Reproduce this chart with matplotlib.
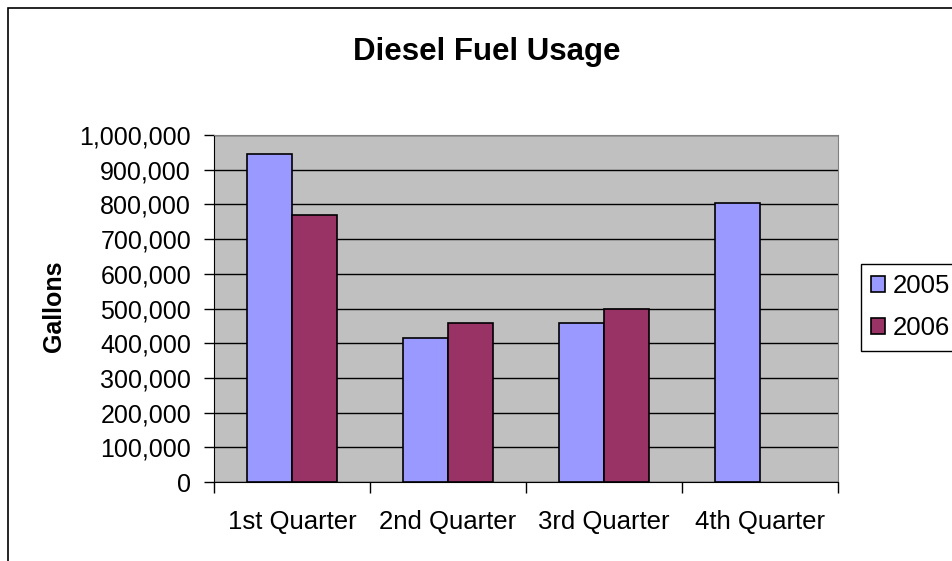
import matplotlib.pyplot as plt
from matplotlib.patches import Rectangle
from matplotlib.ticker import FuncFormatter, MultipleLocator
import numpy as np

plt.rcParams['font.family'] = ['Liberation Sans', 'DejaVu Sans']

quarters = ['1st Quarter', '2nd Quarter', '3rd Quarter', '4th Quarter']
usage_2005 = [945000, 415000, 458000, 805000]
usage_2006 = [770000, 457000, 500000, np.nan]  # no 4th quarter figure yet

W, H = 952, 561
fig = plt.figure(figsize=(W / 100, H / 100), dpi=100)

# outer chart border (runs off the right and bottom edges)
fig.patches.append(Rectangle((8 / W, -0.2), 1.2, 1.2 - 8 / H, transform=fig.transFigure,
                             fill=False, edgecolor='black', linewidth=1.2))

left, right, top, bottom = 214, 838, 135, 482
ax = fig.add_axes([left / W, 1 - bottom / H, (right - left) / W, (bottom - top) / H])
ax.set_facecolor('#C0C0C0')

x = np.arange(len(quarters))
bw = 1 / 3.5
ax.bar(x - bw / 2, usage_2005, bw, color='#9999FF', edgecolor='black', linewidth=1.2, label='2005', zorder=3)
ax.bar(x + bw / 2, usage_2006, bw, color='#993366', edgecolor='black', linewidth=1.2, label='2006', zorder=3)

ax.set_xlim(-0.5, 3.5)
ax.set_ylim(0, 1000000)
ax.yaxis.set_major_locator(MultipleLocator(100000))
ax.yaxis.set_major_formatter(FuncFormatter(lambda v, p: f'{int(v):,}'))
ax.grid(axis='y', color='black', linewidth=1, zorder=1)

ax.set_xticks(np.arange(-0.5, 4, 1))
ax.set_xticklabels([])
ax.set_xticks(x, minor=True)
ax.set_xticklabels(quarters, minor=True)
ax.tick_params(axis='x', which='major', length=8, width=1, direction='out', color='black')
ax.tick_params(axis='x', which='minor', length=0, pad=20, labelsize=18.5)
ax.tick_params(axis='y', length=7, width=1, direction='out', labelsize=18, pad=9.5)

for s in ['top', 'right']:
    ax.spines[s].set_color('#808080')
ax.spines['left'].set_color('black')
ax.spines['bottom'].set_color('black')

fig.text(54 / W, 1 - 306 / H, 'Gallons', rotation=90, ha='center', va='center',
         fontsize=18, fontweight='bold')
fig.text(487 / W, 1 - 60 / H, 'Diesel Fuel Usage', ha='center', va='baseline',
         fontsize=22.5, fontweight='bold')

leg = fig.legend(loc='upper left', bbox_to_anchor=(861 / W, 1 - 264 / H), fontsize=18.5,
                 frameon=True, fancybox=False, framealpha=1, handlelength=0.55, handleheight=0.55,
                 handletextpad=0.3, borderpad=0.4, labelspacing=0.7, borderaxespad=0)
leg.get_frame().set_edgecolor('black')
leg.get_frame().set_linewidth(1)

fig.savefig('out.png', dpi=100)
